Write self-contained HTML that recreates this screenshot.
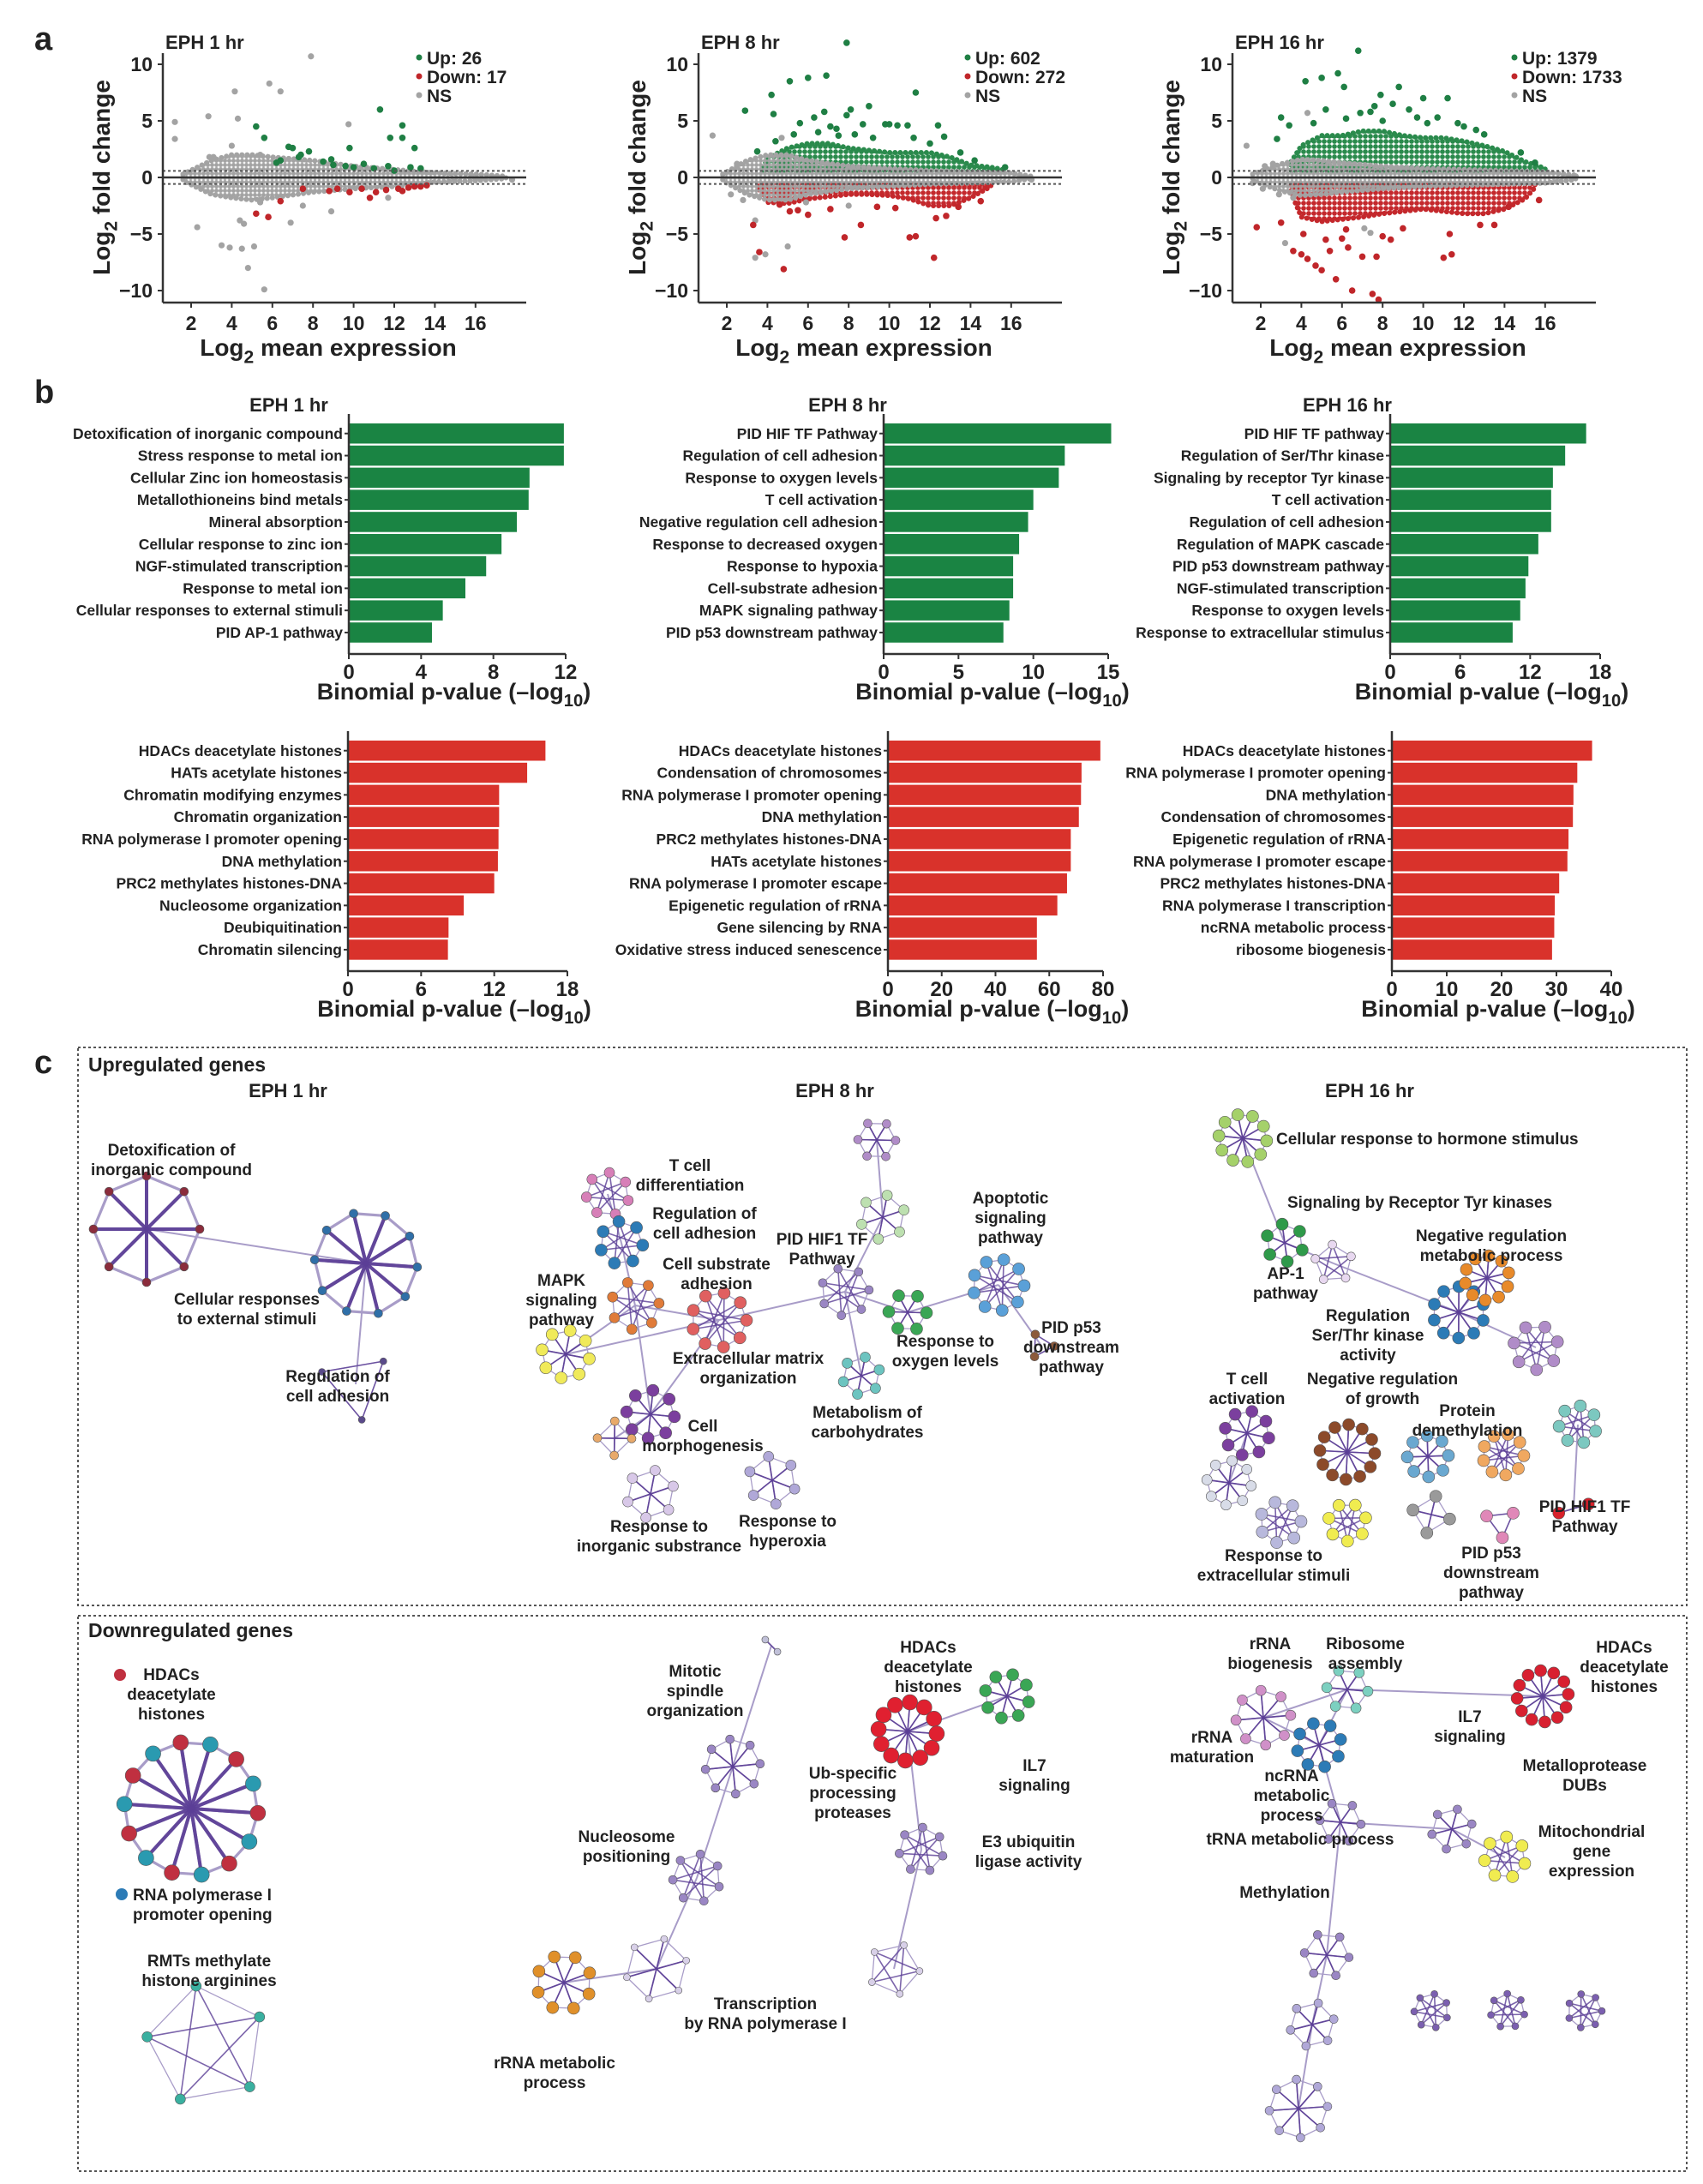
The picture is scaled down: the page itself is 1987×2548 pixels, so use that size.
<!DOCTYPE html>
<html><head><meta charset="utf-8"><style>
html,body{margin:0;padding:0;background:#fff}
svg{display:block}
text{font-family:"Liberation Sans",Arial,sans-serif;font-weight:bold;fill:#222}
.lab{font-size:19px}
</style></head><body>
<svg id="fig" xmlns="http://www.w3.org/2000/svg" width="1987" height="2548" viewBox="0 0 1987 2548">
<defs>
<pattern id="pg" width="6" height="6" patternUnits="userSpaceOnUse"><circle cx="3" cy="3" r="2.9" fill="#2a8a4c"/></pattern>
<pattern id="pr" width="6" height="6" patternUnits="userSpaceOnUse"><circle cx="3" cy="3" r="2.9" fill="#c4282c"/></pattern>
<pattern id="pa" width="5" height="5" patternUnits="userSpaceOnUse"><circle cx="2.5" cy="2.5" r="2.5" fill="#a3a3a3"/></pattern>
</defs>
<text x="40" y="58" style="font-size:38px">a</text>
<text x="40" y="470" style="font-size:38px">b</text>
<text x="40" y="1252" style="font-size:38px">c</text>
<rect x="91" y="1222" width="1877" height="651" fill="none" stroke="#555" stroke-width="2" stroke-dasharray="3,3"/>
<rect x="91" y="1885" width="1877" height="648" fill="none" stroke="#555" stroke-width="2" stroke-dasharray="3,3"/>
<g id="net"></g>
<g id="charts"></g>
<g class="lab">
<text x="103" y="1250" style="font-size:23px">Upregulated genes</text>
<text x="336" y="1280" text-anchor="middle" style="font-size:22px">EPH 1 hr</text>
<text x="974" y="1280" text-anchor="middle" style="font-size:22px">EPH 8 hr</text>
<text x="1598" y="1280" text-anchor="middle" style="font-size:22px">EPH 16 hr</text>
<text text-anchor="middle"><tspan x="200" y="1348">Detoxification of</tspan><tspan x="200" y="1371">inorganic compound</tspan></text>
<text text-anchor="middle"><tspan x="288" y="1522">Cellular responses</tspan><tspan x="288" y="1545">to external stimuli</tspan></text>
<text text-anchor="middle"><tspan x="394" y="1612">Regulation of</tspan><tspan x="394" y="1635">cell adhesion</tspan></text>
<text text-anchor="middle"><tspan x="805" y="1366">T cell</tspan><tspan x="805" y="1389">differentiation</tspan></text>
<text text-anchor="middle"><tspan x="822" y="1422">Regulation of</tspan><tspan x="822" y="1445">cell adhesion</tspan></text>
<text text-anchor="middle"><tspan x="836" y="1481">Cell substrate</tspan><tspan x="836" y="1504">adhesion</tspan></text>
<text text-anchor="middle"><tspan x="959" y="1452">PID HIF1 TF</tspan><tspan x="959" y="1475">Pathway</tspan></text>
<text text-anchor="middle"><tspan x="1179" y="1404">Apoptotic</tspan><tspan x="1179" y="1427">signaling</tspan><tspan x="1179" y="1450">pathway</tspan></text>
<text text-anchor="middle"><tspan x="655" y="1500">MAPK</tspan><tspan x="655" y="1523">signaling</tspan><tspan x="655" y="1546">pathway</tspan></text>
<text text-anchor="middle"><tspan x="873" y="1591">Extracellular matrix</tspan><tspan x="873" y="1614">organization</tspan></text>
<text text-anchor="middle"><tspan x="1103" y="1571">Response to</tspan><tspan x="1103" y="1594">oxygen levels</tspan></text>
<text text-anchor="middle"><tspan x="1250" y="1555">PID p53</tspan><tspan x="1250" y="1578">downstream</tspan><tspan x="1250" y="1601">pathway</tspan></text>
<text text-anchor="middle"><tspan x="1012" y="1654">Metabolism of</tspan><tspan x="1012" y="1677">carbohydrates</tspan></text>
<text text-anchor="middle"><tspan x="820" y="1670">Cell</tspan><tspan x="820" y="1693">morphogenesis</tspan></text>
<text text-anchor="middle"><tspan x="769" y="1787">Response to</tspan><tspan x="769" y="1810">inorganic substrance</tspan></text>
<text text-anchor="middle"><tspan x="919" y="1781">Response to</tspan><tspan x="919" y="1804">hyperoxia</tspan></text>
<text x="1489" y="1335">Cellular response to hormone stimulus</text>
<text x="1502" y="1409">Signaling by Receptor Tyr kinases</text>
<text text-anchor="middle"><tspan x="1740" y="1448">Negative regulation</tspan><tspan x="1740" y="1471">metabolic process</tspan></text>
<text text-anchor="middle"><tspan x="1500" y="1492">AP-1</tspan><tspan x="1500" y="1515">pathway</tspan></text>
<text text-anchor="middle"><tspan x="1596" y="1541">Regulation</tspan><tspan x="1596" y="1564">Ser/Thr kinase</tspan><tspan x="1596" y="1587">activity</tspan></text>
<text text-anchor="middle"><tspan x="1455" y="1615">T cell</tspan><tspan x="1455" y="1638">activation</tspan></text>
<text text-anchor="middle"><tspan x="1613" y="1615">Negative regulation</tspan><tspan x="1613" y="1638">of growth</tspan></text>
<text text-anchor="middle"><tspan x="1712" y="1652">Protein</tspan><tspan x="1712" y="1675">demethylation</tspan></text>
<text text-anchor="middle"><tspan x="1849" y="1764">PID HIF1 TF</tspan><tspan x="1849" y="1787">Pathway</tspan></text>
<text text-anchor="middle"><tspan x="1486" y="1821">Response to</tspan><tspan x="1486" y="1844">extracellular stimuli</tspan></text>
<text text-anchor="middle"><tspan x="1740" y="1818">PID p53</tspan><tspan x="1740" y="1841">downstream</tspan><tspan x="1740" y="1864">pathway</tspan></text>
<text x="103" y="1910" style="font-size:23px">Downregulated genes</text>
<circle cx="140" cy="1954" r="7" fill="#c03040"/>
<text text-anchor="middle"><tspan x="200" y="1960">HDACs</tspan><tspan x="200" y="1983">deacetylate</tspan><tspan x="200" y="2006">histones</tspan></text>
<circle cx="142" cy="2210" r="7" fill="#2c7bb6"/>
<text><tspan x="155" y="2217">RNA polymerase I</tspan><tspan x="155" y="2240">promoter opening</tspan></text>
<text text-anchor="middle"><tspan x="244" y="2294">RMTs methylate</tspan><tspan x="244" y="2317">histone arginines</tspan></text>
<text text-anchor="middle"><tspan x="811" y="1956">Mitotic</tspan><tspan x="811" y="1979">spindle</tspan><tspan x="811" y="2002">organization</tspan></text>
<text text-anchor="middle"><tspan x="1083" y="1928">HDACs</tspan><tspan x="1083" y="1951">deacetylate</tspan><tspan x="1083" y="1974">histones</tspan></text>
<text text-anchor="middle"><tspan x="1207" y="2066">IL7</tspan><tspan x="1207" y="2089">signaling</tspan></text>
<text text-anchor="middle"><tspan x="995" y="2075">Ub-specific</tspan><tspan x="995" y="2098">processing</tspan><tspan x="995" y="2121">proteases</tspan></text>
<text text-anchor="middle"><tspan x="1200" y="2155">E3 ubiquitin</tspan><tspan x="1200" y="2178">ligase activity</tspan></text>
<text text-anchor="middle"><tspan x="731" y="2149">Nucleosome</tspan><tspan x="731" y="2172">positioning</tspan></text>
<text text-anchor="middle"><tspan x="893" y="2344">Transcription</tspan><tspan x="893" y="2367">by RNA polymerase I</tspan></text>
<text text-anchor="middle"><tspan x="647" y="2413">rRNA metabolic</tspan><tspan x="647" y="2436">process</tspan></text>
<text text-anchor="middle"><tspan x="1482" y="1924">rRNA</tspan><tspan x="1482" y="1947">biogenesis</tspan></text>
<text text-anchor="middle"><tspan x="1593" y="1924">Ribosome</tspan><tspan x="1593" y="1947">assembly</tspan></text>
<text text-anchor="middle"><tspan x="1895" y="1928">HDACs</tspan><tspan x="1895" y="1951">deacetylate</tspan><tspan x="1895" y="1974">histones</tspan></text>
<text text-anchor="middle"><tspan x="1715" y="2009">IL7</tspan><tspan x="1715" y="2032">signaling</tspan></text>
<text text-anchor="middle"><tspan x="1414" y="2033">rRNA</tspan><tspan x="1414" y="2056">maturation</tspan></text>
<text text-anchor="middle"><tspan x="1507" y="2078">ncRNA</tspan><tspan x="1507" y="2101">metabolic</tspan><tspan x="1507" y="2124">process</tspan></text>
<text text-anchor="middle"><tspan x="1849" y="2066">Metalloprotease</tspan><tspan x="1849" y="2089">DUBs</tspan></text>
<text text-anchor="middle" x="1517" y="2152">tRNA metabolic process</text>
<text text-anchor="middle"><tspan x="1857" y="2143">Mitochondrial</tspan><tspan x="1857" y="2166">gene</tspan><tspan x="1857" y="2189">expression</tspan></text>
<text text-anchor="middle" x="1499" y="2214">Methylation</text>
</g>
</svg>
<script>
// ===== Panel a: MA plots (data values in log2 units) =====
const maTicksX = [2,4,6,8,10,12,14,16];
const maTicksY = [10,5,0,-5,-10];
const maTitles = ["EPH 1 hr","EPH 8 hr","EPH 16 hr"];
const maCounts = [["Up: 26","Down: 17","NS"],["Up: 602","Down: 272","NS"],["Up: 1379","Down: 1733","NS"]];
const maThreshold = 0.58;
const ma1CloudX  = [1.6,3,4,5,6,8,10,12,14,16,17.5];
const ma1CloudHi = [0.3,1.5,2.0,2.0,1.8,1.5,1.0,0.7,0.4,0.3,0.1];
const ma1CloudLo = [-0.3,-1.5,-1.8,-2.0,-1.8,-1.3,-1.0,-0.8,-0.4,-0.3,-0.1];
const ma1Gray = [[7.9,10.7],[1.2,4.9],[1.2,3.4],[2.85,5.4],[4.15,7.6],[4.3,5.2],[5.85,8.3],[6.4,7.6],[9.75,4.7],[2.3,-4.4],[3.5,-6.0],[3.9,-6.2],[4.5,-6.3],[5.1,-6.1],[4.8,-8.0],[5.6,-9.9],[6.9,-4.0],[8.9,-3.0],[7.5,-2.5],[5.4,-2.2],[11.7,-1.8],[2.9,1.8],[3.1,1.8],[4.0,2.8],[5.4,2.0],[4.4,-3.8],[4.6,-4.1],[17.8,-0.2]];
const ma1Up = [[5.2,4.5],[5.6,3.5],[6.8,2.7],[7.4,2.0],[7.8,2.3],[8.9,1.6],[9.8,2.6],[9.6,1.0],[11.3,6.0],[11.8,3.5],[12.4,4.6],[12.4,3.5],[13.0,2.6],[11.7,1.0],[6.4,1.5],[6.2,1.3],[12.0,0.6],[8.5,1.4],[10.5,1.2],[7.0,2.6],[12.8,0.9],[13.3,0.8],[10.0,0.9],[9.0,1.1],[11.0,0.8],[7.3,1.8]];
const ma1Down = [[5.2,-3.2],[5.8,-3.5],[6.4,-2.1],[8.8,-1.2],[9.2,-1.0],[9.8,-1.3],[10.4,-1.0],[10.8,-1.8],[11.1,-1.3],[11.6,-1.1],[12.2,-1.0],[12.4,-1.2],[12.7,-0.9],[13.0,-0.8],[13.3,-0.8],[13.6,-0.7],[7.5,-1.0]];
const ma1UpBandX = [], ma1UpBandHi = [], ma1DownBandX = [], ma1DownBandLo = [];

const ma2CloudX  = [1.8,3,4,5,6,8,10,12,14,16,17];
const ma2CloudHi = [0.3,1.5,2.0,2.0,1.5,1.0,0.8,0.6,0.5,0.4,0.1];
const ma2CloudLo = [-0.3,-1.5,-2.0,-2.0,-1.5,-1.0,-0.8,-0.6,-0.5,-0.4,-0.1];
const ma2UpBandX  = [3.8,4,5,6,7,8,9,10,11,12,13,14,15,15.6];
const ma2UpBandHi = [0.9,1.7,2.6,3.0,3.0,2.6,2.4,2.2,2.2,2.2,1.8,1.1,0.9,0.7];
const ma2DownBandX  = [3.6,4,5,6,7,8,9,10,11,12,13,14,15];
const ma2DownBandLo = [-1.1,-2.2,-2.3,-1.9,-1.7,-1.5,-1.5,-1.6,-1.9,-2.5,-2.5,-1.8,-0.8];
const ma2Gray = [[1.3,3.7],[2.2,-1.5],[2.8,-2.0],[3.4,-3.8],[3.4,-7.1],[3.9,-6.8],[5.0,-6.1],[8.0,-2.5],[4.7,3.5],[2.5,1.2],[5.9,-2.2],[17,-0.2]];
const ma2Up = [[7.9,11.9],[5.1,8.5],[6.0,8.8],[6.9,9.0],[4.2,7.3],[2.9,5.9],[4.3,5.6],[8.1,6.0],[7.9,5.5],[9.0,6.3],[11.3,7.5],[7.1,4.5],[8.7,4.7],[9.2,3.5],[9.8,4.7],[10.4,4.6],[10.9,4.6],[12.4,4.6],[12.7,3.6],[5.6,4.8],[6.3,5.3],[7.4,4.3],[11.2,3.5],[4.4,3.2],[5.3,3.8],[6.5,4.0],[8.3,3.8],[13.5,2.2],[14.2,1.5],[15.7,0.9],[10.0,4.7],[6.8,5.8],[7.5,3.7],[3.5,2.3],[12.0,3.0]];
const ma2Down = [[3.3,-4.2],[3.6,-6.6],[4.8,-8.1],[5.1,-3.0],[6.0,-3.3],[7.8,-5.3],[8.6,-4.2],[11.0,-5.3],[11.3,-5.2],[12.2,-7.1],[12.3,-3.6],[12.8,-3.4],[14.5,-2.1],[9.4,-2.6],[10.3,-2.7],[7.1,-2.8],[5.5,-2.9],[4.6,-2.4],[13.4,-2.6]];

const ma3CloudX  = [1.6,3,4,5,6,8,10,12,14,16,17.5];
const ma3CloudHi = [0.3,1.2,1.6,1.5,1.3,1.0,0.8,0.7,0.6,0.5,0.2];
const ma3CloudLo = [-0.3,-1.2,-1.6,-1.5,-1.3,-1.0,-0.8,-0.7,-0.6,-0.5,-0.2];
const ma3UpBandX  = [3.5,4,5,6,7,8,9,10,11,12,13,14,15,16];
const ma3UpBandHi = [1.4,2.8,3.7,3.7,4.1,4.1,3.7,3.5,3.5,3.2,2.8,2.3,1.4,0.8];
const ma3DownBandX  = [3.5,4,5,6,7,8,9,10,11,12,13,14,15,15.5];
const ma3DownBandLo = [-1.4,-3.5,-3.9,-3.7,-3.5,-3.2,-3.0,-2.8,-3.0,-3.2,-3.2,-2.8,-1.9,-0.9];
const ma3Gray = [[1.3,2.8],[2.2,1.0],[2.6,1.2],[2.1,-1.0],[2.9,-1.5],[3.2,-5.8],[7.4,-4.9],[7.1,-4.5],[3.6,-1.8],[4.3,5.7],[1.6,-0.5],[17.5,0.1]];
const ma3Up = [[6.8,11.2],[4.2,8.5],[5.0,8.8],[5.8,9.2],[6.1,8.0],[8.8,8.0],[7.9,7.3],[10.0,7.0],[11.2,7.0],[7.6,6.3],[8.5,6.5],[9.3,6.0],[3.0,5.3],[5.2,6.0],[6.9,5.7],[7.4,5.8],[10.7,5.3],[11.7,4.8],[12.6,4.2],[13.0,3.8],[3.4,4.6],[2.8,3.4],[9.7,5.3],[8.0,5.0],[6.2,5.2],[15.5,1.3],[14.8,2.2],[4.6,4.8],[12.0,4.5],[10.2,4.8]];
const ma3Down = [[1.8,-4.4],[3.0,-4.0],[3.6,-6.5],[4.0,-6.8],[4.3,-7.2],[4.7,-7.8],[5.0,-8.2],[5.7,-9.0],[6.5,-10.0],[7.8,-10.8],[7.5,-10.3],[5.4,-6.5],[6.3,-6.2],[7.0,-7.0],[7.7,-7.0],[8.4,-5.5],[8.0,-5.2],[11.0,-7.1],[11.4,-6.8],[11.3,-5.0],[12.8,-4.2],[5.2,-5.5],[9.0,-4.5],[4.1,-5.0],[6.0,-5.4],[13.5,-4.2],[14.2,-2.6],[15.7,-2.0],[6.2,-4.6]];

// ===== Panel b: enrichment bar charts =====
const bUp1Cats = ["Detoxification of inorganic compound","Stress response to metal ion","Cellular Zinc ion homeostasis","Metallothioneins bind metals","Mineral absorption","Cellular response to zinc ion","NGF-stimulated transcription","Response to metal ion","Cellular responses to external stimuli","PID AP-1 pathway"];
const bUp1Vals = [11.9,11.9,10.0,9.95,9.3,8.45,7.6,6.45,5.2,4.6];
const bUp1Ticks = [0,4,8,12];
const bUp2Cats = ["PID HIF TF Pathway","Regulation of cell adhesion","Response to oxygen levels","T cell activation","Negative regulation cell adhesion","Response to decreased oxygen","Response to hypoxia","Cell-substrate adhesion","MAPK signaling pathway","PID p53 downstream pathway"];
const bUp2Vals = [15.2,12.1,11.7,10.0,9.65,9.05,8.65,8.65,8.4,8.0];
const bUp2Ticks = [0,5,10,15];
const bUp3Cats = ["PID HIF TF pathway","Regulation of Ser/Thr kinase","Signaling by receptor Tyr kinase","T cell activation","Regulation of cell adhesion","Regulation of MAPK cascade","PID p53 downstream pathway","NGF-stimulated transcription","Response to oxygen levels","Response to extracellular stimulus"];
const bUp3Vals = [16.8,15.0,13.95,13.8,13.8,12.7,11.85,11.6,11.15,10.5];
const bUp3Ticks = [0,6,12,18];
const bDn1Cats = ["HDACs deacetylate histones","HATs acetylate histones","Chromatin modifying enzymes","Chromatin organization","RNA polymerase I promoter opening","DNA methylation","PRC2 methylates histones-DNA","Nucleosome organization","Deubiquitination","Chromatin silencing"];
const bDn1Vals = [16.2,14.7,12.4,12.4,12.35,12.3,12.0,9.5,8.25,8.2];
const bDn1Ticks = [0,6,12,18];
const bDn2Cats = ["HDACs deacetylate histones","Condensation of chromosomes","RNA polymerase I promoter opening","DNA methylation","PRC2 methylates histones-DNA","HATs acetylate histones","RNA polymerase I promoter escape","Epigenetic regulation of rRNA","Gene silencing by RNA","Oxidative stress induced senescence"];
const bDn2Vals = [79,72,71.8,71,68,68,66.6,63,55.4,55.4];
const bDn2Ticks = [0,20,40,60,80];
const bDn3Cats = ["HDACs deacetylate histones","RNA polymerase I promoter opening","DNA methylation","Condensation of chromosomes","Epigenetic regulation of rRNA","RNA polymerase I promoter escape","PRC2 methylates histones-DNA","RNA polymerase I transcription","ncRNA metabolic process","ribosome biogenesis"];
const bDn3Vals = [36.5,33.8,33.1,33.0,32.2,32.0,30.5,29.7,29.6,29.2];
const bDn3Ticks = [0,10,20,30,40];

const NS = "http://www.w3.org/2000/svg";
const charts = document.getElementById('charts');
function mk(tag, attrs, parent){
  const e = document.createElementNS(NS, tag);
  for (const k in attrs) e.setAttribute(k, attrs[k]);
  (parent||charts).appendChild(e);
  return e;
}
function subText(x,y,pre,sub,post,size,anchor,rot){
  const t = mk('text',{x:x,y:y,'text-anchor':anchor,style:'font-size:'+size+'px'});
  if (rot) t.setAttribute('transform','rotate(-90 '+x+' '+y+')');
  const a = document.createElementNS(NS,'tspan'); a.textContent=pre; t.appendChild(a);
  const b = document.createElementNS(NS,'tspan'); b.textContent=sub; b.setAttribute('dy', size*0.3); b.setAttribute('style','font-size:'+(size*0.75)+'px'); t.appendChild(b);
  const c = document.createElementNS(NS,'tspan'); c.textContent=post; c.setAttribute('dy', -size*0.3); t.appendChild(c);
  return t;
}

function drawMA(k, dx, cloudX, cloudHi, cloudLo, upBX, upBHi, dnBX, dnBLo, gray, up, down){
  const xs = v => 223 + (v-2)*23.7 + dx;
  const ys = v => 207 - v*13.2;
  const g = mk('g',{});
  
  
  function band(X, edge, base, col, pat, nm){
    if (!X.length) return;
    let pts = X.map((x,i)=>xs(x)+','+ys(edge[i]));
    for (let i=X.length-1;i>=0;i--) pts.push(xs(X[i])+','+ys(base));
    const p = mk('polygon',{points:pts.join(' '),fill:'url(#'+pat+')',stroke:col,'stroke-width':6,'stroke-dasharray':'0.1,6','stroke-linecap':'round'},g);
    
    
  }
  band(upBX, upBHi, maThreshold, '#2a8a4c', 'pg', 'up-band');
  band(dnBX, dnBLo, -maThreshold, '#c4282c', 'pr', 'down-band');
  let pts = cloudX.map((x,i)=>xs(x)+','+ys(cloudHi[i]));
  for (let i=cloudX.length-1;i>=0;i--) pts.push(xs(cloudX[i])+','+ys(cloudLo[i]));
  const cl = mk('polygon',{points:pts.join(' '),fill:'url(#pa)',stroke:'#a3a3a3','stroke-width':6,'stroke-dasharray':'0.1,6','stroke-linecap':'round'},g);
  
  
  gray.forEach(p=>{
    const c = mk('circle',{cx:xs(p[0]),cy:ys(p[1]),r:3.6,fill:'#a3a3a3'},g);
    
    
  });
  up.forEach(p=>{
    const c = mk('circle',{cx:xs(p[0]),cy:ys(p[1]),r:3.8,fill:'#1f7f44'},g);
    
    
  });
  down.forEach(p=>{
    const c = mk('circle',{cx:xs(p[0]),cy:ys(p[1]),r:3.8,fill:'#c0262a'},g);
    
    
  });
  const ax0 = 190+dx, axEnd = 614+dx, axY = 353;
  [maThreshold,-maThreshold].forEach(t=>{
    const l = mk('line',{x1:ax0,x2:axEnd,y1:ys(t),y2:ys(t),stroke:'#555','stroke-width':2,'stroke-dasharray':'3,3'},g);
    
    
  });
  const z = mk('line',{x1:ax0,x2:axEnd,y1:ys(0),y2:ys(0),stroke:'#333','stroke-width':2.5},g);
  
  
  const ya = mk('line',{x1:ax0,x2:ax0,y1:62,y2:axY,stroke:'#333','stroke-width':2.5},g);
  
  
  const xa = mk('line',{x1:ax0,x2:axEnd,y1:axY,y2:axY,stroke:'#333','stroke-width':2.5},g);
  
  
  maTicksY.forEach(v=>{
    mk('line',{x1:ax0-6,x2:ax0,y1:ys(v),y2:ys(v),stroke:'#333','stroke-width':2},g);
    const t = mk('text',{x:ax0-12,y:ys(v)+8,'text-anchor':'end',style:'font-size:23px'},g);
    t.textContent = v<0 ? '\u2212'+(-v) : v;
    
    
  });
  maTicksX.forEach(v=>{
    mk('line',{x1:xs(v),x2:xs(v),y1:axY,y2:axY+6,stroke:'#333','stroke-width':2},g);
    const t = mk('text',{x:xs(v),y:385,'text-anchor':'middle',style:'font-size:23px'},g);
    t.textContent = v;
    
    
  });
  const ti = mk('text',{x:ax0+3,y:57,style:'font-size:22px'},g);
  ti.textContent = maTitles[k];
  
  
  const cols = ['#1f7f44','#c0262a','#a3a3a3'];
  maCounts[k].forEach((s,i)=>{
    const lx = 489+dx+(k===2?30:(k===1?15:0));
    mk('circle',{cx:lx,cy:67+i*22,r:3.5,fill:cols[i]},g);
    const t = mk('text',{x:lx+9,y:75+i*22,style:'font-size:21px'},g);
    t.textContent = s;
    
    
  });
  const yt = subText(128+dx,207,'Log','2',' fold change',28,'middle',true);
  
  
  const xt = subText(383+dx,415,'Log','2',' mean expression',28,'middle',false);
  
  
}
drawMA(0,0,ma1CloudX,ma1CloudHi,ma1CloudLo,ma1UpBandX,ma1UpBandHi,ma1DownBandX,ma1DownBandLo,ma1Gray,ma1Up,ma1Down);
drawMA(1,625,ma2CloudX,ma2CloudHi,ma2CloudLo,ma2UpBandX,ma2UpBandHi,ma2DownBandX,ma2DownBandLo,ma2Gray,ma2Up,ma2Down);
drawMA(2,1248,ma3CloudX,ma3CloudHi,ma3CloudLo,ma3UpBandX,ma3UpBandHi,ma3DownBandX,ma3DownBandLo,ma3Gray,ma3Up,ma3Down);

function drawBars(name, cats, vals, ticks, ax0, axW, top, col, title, titleX){
  const max = ticks[ticks.length-1];
  const xs = v => ax0 + v/max*axW;
  const pitch = 25.8, bh = 23.5;
  const g = mk('g',{});
  
  
  cats.forEach((c,i)=>{
    const y = top + i*pitch;
    const r = mk('rect',{x:ax0,y:y,width:xs(vals[i])-ax0,height:bh,fill:col},g);
    
    
    mk('line',{x1:ax0-5,x2:ax0,y1:y+bh/2,y2:y+bh/2,stroke:'#333','stroke-width':2},g);
    const t = mk('text',{x:ax0-7,y:y+bh/2+6,'text-anchor':'end',style:'font-size:17.5px'},g);
    t.textContent = c;
    
    
  });
  const yAxTop = top-11, axY = top + pitch*10 + 11;
  const ya = mk('line',{x1:ax0,x2:ax0,y1:yAxTop,y2:axY,stroke:'#333','stroke-width':2.5},g);
  
  
  const xa = mk('line',{x1:ax0,x2:ax0+axW,y1:axY,y2:axY,stroke:'#333','stroke-width':2.5},g);
  
  
  ticks.forEach(v=>{
    mk('line',{x1:xs(v),x2:xs(v),y1:axY,y2:axY+6,stroke:'#333','stroke-width':2},g);
    const t = mk('text',{x:xs(v),y:axY+29,'text-anchor':'middle',style:'font-size:24px'},g);
    t.textContent = v;
    
    
  });
  const xt = subText(ax0+axW/2-4,axY+53,'Binomial p-value (\u2013log','10',')',27,'middle',false);
  
  
  if (title){
    const tt = mk('text',{x:titleX,y:top-14,'text-anchor':'middle',style:'font-size:22px'},g);
    tt.textContent = title;
    
    
  }
}
const GREEN='#1a8443', RED='#d9322b';
drawBars('bar-up-1hr',bUp1Cats,bUp1Vals,bUp1Ticks,407,253,494,GREEN,'EPH 1 hr',337);
drawBars('bar-up-8hr',bUp2Cats,bUp2Vals,bUp2Ticks,1031,262,494,GREEN,'EPH 8 hr',989);
drawBars('bar-up-16hr',bUp3Cats,bUp3Vals,bUp3Ticks,1622,245,494,GREEN,'EPH 16 hr',1572);
drawBars('bar-down-1hr',bDn1Cats,bDn1Vals,bDn1Ticks,406,256,864,RED,null,0);
drawBars('bar-down-8hr',bDn2Cats,bDn2Vals,bDn2Ticks,1036,251,864,RED,null,0);
drawBars('bar-down-16hr',bDn3Cats,bDn3Vals,bDn3Ticks,1624,256,864,RED,null,0);

// ===== Panel c: enrichment networks (layout) =====
const netClusters = [
 [171,1434,62,8,'#8b2c3c',5],[427,1474,60,10,'#2f6fa8',5],[415,1615,42,3,'#5a4a8a',4],
 [709,1393,25,7,'#d77fb8',6],[725,1450,25,7,'#2c7bb6',7],[741,1523,28,7,'#e07b39',6],[839,1540,32,9,'#e06060',7],
 [660,1580,28,8,'#f0ea5a',7],[759,1650,28,8,'#7b3f9e',7],[717,1678,20,4,'#e8a96a',5],[759,1743,28,6,'#d8c8e8',6],
 [901,1727,28,6,'#b0a8d8',6],[1023,1330,22,6,'#b08cc8',5],[1030,1420,26,6,'#bde0b0',6],[986,1507,28,7,'#9a86c4',5],
 [1059,1531,22,6,'#3aa655',7],[1005,1605,22,6,'#6cc4c0',6],[1165,1499,30,9,'#5aa0d8',7],[1215,1570,15,3,'#8c5a3c',5],
 [1450,1328,28,10,'#a5d16a',7],[1499,1450,22,6,'#2f9a4a',7],[1556,1474,22,5,'#e8d8f0',5],[1702,1531,30,10,'#2c7bb6',7],
 [1735,1491,26,10,'#e88a2a',7],[1792,1572,26,7,'#b08cc8',7],[1455,1672,26,8,'#7b3f9e',7],[1434,1730,26,8,'#d8dce8',6],
 [1572,1694,32,12,'#8c4a2a',7],[1666,1699,24,8,'#6aa8d0',7],[1754,1697,24,9,'#f0a860',7],[1841,1662,22,7,'#7cc8c0',7],
 [1836,1760,18,2,'#d8202a',7],[1494,1776,24,7,'#b8b8dc',7],[1572,1776,22,7,'#f0ec50',7],[1670,1767,22,4,'#9a9a9a',7],
 [1751,1776,18,3,'#e088b8',7],
 [223,2110,78,14,'#c03040',9],[241,2386,70,5,'#3ab0a0',6],
 [855,2061,32,8,'#9a86c4',5],[813,2191,28,7,'#9a86c4',5],[766,2297,36,6,'#d8d0e8',4],[658,2313,32,8,'#e0902a',7],
 [1059,2020,34,12,'#e02030',9],[1175,1979,26,8,'#3aa655',7],[1075,2158,26,7,'#9a86c4',5],[1043,2297,30,5,'#d8d0e8',4],
 [900,1920,10,2,'#c0c0d8',4],
 [1474,2004,32,8,'#d090c8',6],[1572,1971,24,6,'#7cd0c0',6],[1539,2036,26,8,'#2c7bb6',7],[1800,1979,30,12,'#d82030',7],
 [1564,2126,24,6,'#9a86c4',5],[1694,2134,24,6,'#9a86c4',5],[1756,2167,24,7,'#f0ec50',7],[1548,2281,26,6,'#9a86c4',5],
 [1531,2362,26,6,'#b0a8d8',5],[1515,2460,34,8,'#b0a8d8',5],[1670,2346,20,7,'#7b5fb0',4],[1759,2346,20,7,'#7b5fb0',4],[1849,2346,20,7,'#7b5fb0',4]
];
const netLinks = [[0,1],[1,2],[3,4],[4,5],[5,6],[5,7],[6,14],[7,6],[8,5],[9,8],[6,8],[12,13],[13,14],[14,15],[14,16],[15,17],[17,18],
 [19,20],[20,21],[21,22],[22,23],[22,24],[25,26],[30,31],[38,39],[39,40],[40,41],[38,46],[42,43],[42,44],[44,45],
 [47,48],[48,49],[47,49],[49,51],[51,52],[52,53],[51,54],[54,55],[55,56],[50,48]];
const net = document.getElementById('net');
netLinks.forEach(l=>{
  const a = netClusters[l[0]], b = netClusters[l[1]];
  const e = mk('line',{x1:a[0],y1:a[1],x2:b[0],y2:b[1],stroke:'#a89cc8','stroke-width':2},net);
  
  
});
netClusters.forEach((c,ci)=>{
  const [cx,cy,r,n,col,nr] = c;
  const g = mk('g',{},net);
  
  
  const pts = [];
  for (let i=0;i<n;i++){ const a = i/n*Math.PI*2 + ci*0.7; pts.push([cx+r*Math.cos(a), cy+r*Math.sin(a)]); }
  const heavy = (ci===0||ci===1||ci===36) ? 4 : 1.6;
  pts.forEach((p,i)=>{
    const q = pts[(i+1)%n];
    mk('line',{x1:p[0],y1:p[1],x2:q[0],y2:q[1],stroke:'#a89cc8','stroke-width':heavy*0.8},g);
    const o = pts[(i+Math.floor(n/2))%n];
    mk('line',{x1:p[0],y1:p[1],x2:o[0],y2:o[1],stroke:'#5b3f96','stroke-width':heavy,'stroke-opacity':0.8},g);
  });
  pts.forEach((p,i)=>{
    let fill = col;
    if (ci===36 && i%2===1) fill = '#2a9ab0';
    const nd = mk('circle',{cx:p[0],cy:p[1],r:nr,fill:fill,stroke:'#555','stroke-width':0.6},g);
    
    
  });
});
</script>
</body></html>
